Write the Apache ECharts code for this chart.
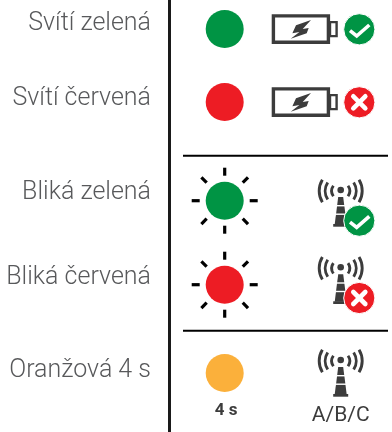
<!DOCTYPE html>
<html>
<head>
<meta charset="utf-8">
<style>
  html, body { margin: 0; padding: 0; background: #fff; }
  #main { width: 392px; height: 432px; }
</style>
<script src="https://cdn.jsdelivr.net/npm/echarts@6/dist/echarts.min.js"></script>
</head>
<body>
<div id="main"></div>
<script>
// one row per signal
const rowLabels = ['Svítí zelená', 'Svítí červená', 'Bliká zelená', 'Bliká červená', 'Oranžová 4 s']
const lampStates = ['green', 'red', 'green', 'red', 'orange']
const lampBlinks = [false, false, true, true, false]
const deviceIcons = ['battery', 'battery', 'tower', 'tower', 'tower']
const statusBadges = ['ok', 'fail', 'ok', 'fail', 'none']
const lampCaptions = ['', '', '', '', '4 s']
const deviceCaptions = ['', '', '', '', 'A/B/C']

// layout, in page pixels
const rowY = [29, 102, 200.7, 284.7, 373]
const labelY = [23.5, 98.5, 192.5, 277.5, 370.5]
const labelRight = 151
const lampX = 224.7
const lampR = 19
const dividerY = [155.7, 330.7]
const colors = { green: '#009444', red: '#ed1c24', orange: '#fbb03b' }
const dark = '#3c3c3c'
const textColor = '#58595b'
const font = 'Roboto, sans-serif'

const myChart = echarts.init(document.getElementById('main'), null, { renderer: 'canvas' })

function badge (cx, cy, kind) {
  const fill = kind === 'ok' ? colors.green : colors.red
  const white = { stroke: '#fff', fill: 'none', lineCap: 'round' }
  const children = [{
    type: 'circle',
    shape: { cx, cy, r: 15.6 },
    style: { fill, stroke: '#fff', lineWidth: 1 }
  }]
  if (kind === 'ok') {
    children.push({
      type: 'polyline',
      shape: { points: [[cx - 9.3, cy + 1.4], [cx - 2.6, cy + 6.7], [cx + 10, cy - 4.3]] },
      style: { ...white, lineWidth: 3.6, lineCap: 'butt' }
    })
  } else {
    [[-6, -6, 6, 6], [-6, 6, 6, -6]].forEach(d => {
      children.push({
        type: 'line',
        shape: { x1: cx + d[0], y1: cy + d[1], x2: cx + d[2], y2: cy + d[3] },
        style: { ...white, lineWidth: 4.6 }
      })
    })
  }
  return children
}

function battery (cy) {
  const left = 273.4
  return [
    { type: 'rect', shape: { x: left, y: cy - 13.1, width: 55, height: 26.4 }, style: { fill: '#fff', stroke: dark, lineWidth: 3.4 } },
    { type: 'rect', shape: { x: 330, y: cy - 6.9, width: 6.6, height: 14 }, style: { fill: '#fff', stroke: dark, lineWidth: 2.4 } },
    {
      type: 'polygon',
      shape: {
        points: [[10.3, -9], [-4.7, -3.7], [-8.3, 4.3], [-1.3, 3], [-10, 9.7], [6, 4.3], [8, -1], [2, 0]]
          .map(p => [300.7 + p[0], cy + p[1]])
      },
      style: { fill: dark }
    }
  ]
}

function tower (dotY) {
  const x = 340.7
  const children = []
  const radii = [9, 15.5, 21.5]
  radii.forEach((r, i) => {
    const a = [0.62, 0.58, 0.55][i]
    ;[0, Math.PI].forEach(mid => {
      children.push({
        type: 'arc',
        shape: { cx: x, cy: dotY + 1, r, startAngle: mid - a, endAngle: mid + a },
        style: { stroke: dark, fill: 'none', lineWidth: 2.9 }
      })
    })
  })
  children.push({ type: 'circle', shape: { cx: x, cy: dotY, r: 3.3 }, style: { fill: dark } })
  children.push({
    type: 'polygon',
    shape: { points: [[x - 2.5, dotY + 7], [x + 2.5, dotY + 7], [x + 6, dotY + 34.5], [x - 6, dotY + 34.5]] },
    style: { fill: dark }
  })
  ;[15, 23.5].forEach(off => {
    children.push({ type: 'rect', shape: { x: x - 8, y: dotY + off, width: 16, height: 1.4 }, style: { fill: '#fff' } })
  })
  children.push({ type: 'rect', shape: { x: x - 7.5, y: dotY + 34, width: 15, height: 2.7 }, style: { fill: dark } })
  return children
}

function rays (cy) {
  const out = []
  for (let k = 0; k < 8; k++) {
    const a = k * Math.PI / 4
    const inner = k % 2 ? 25.5 : 25
    const outer = 33
    out.push({
      type: 'line',
      shape: {
        x1: lampX + Math.cos(a) * inner,
        y1: cy + Math.sin(a) * inner,
        x2: lampX + Math.cos(a) * outer,
        y2: cy + Math.sin(a) * outer
      },
      style: { stroke: '#000', lineWidth: 3.2 }
    })
  }
  return out
}

function renderRow (params, api) {
  const i = params.dataIndex
  const cy = rowY[i]
  let children = []
  if (lampBlinks[i]) children = children.concat(rays(cy))
  if (deviceIcons[i] === 'battery') {
    children = children.concat(battery(cy))
    children = children.concat(badge(359.3, cy + 0.3, statusBadges[i]))
  } else {
    const dotY = cy - 10.7 - (i === 3 ? 6.7 : i === 4 ? 2.3 : 0)
    children = children.concat(tower(dotY))
    if (statusBadges[i] !== 'none') children = children.concat(badge(359.3, dotY + 30.7, statusBadges[i]))
  }
  children.push({
    type: 'text',
    style: { text: rowLabels[i], x: labelRight, y: labelY[i], align: 'right', verticalAlign: 'middle', fontFamily: font, fontSize: 25, fontWeight: 300, fill: textColor }
  })
  if (lampCaptions[i]) {
    children.push({
      type: 'text',
      style: { text: lampCaptions[i], x: lampX + 1.5, y: 410.5, align: 'center', verticalAlign: 'middle', fontFamily: font, fontSize: 17, fontWeight: 700, fill: dark }
    })
  }
  if (deviceCaptions[i]) {
    children.push({
      type: 'text',
      style: { text: deviceCaptions[i], x: 340.7, y: 415.5, align: 'center', verticalAlign: 'middle', fontFamily: font, fontSize: 21, fontWeight: 400, fill: dark }
    })
  }
  return { type: 'group', children }
}

function renderRules () {
  const children = [{ type: 'rect', shape: { x: 168, y: 0, width: 3, height: 432 }, style: { fill: '#1a1a1a' } }]
  dividerY.forEach(y => {
    children.push({ type: 'rect', shape: { x: 183, y: y - 1, width: 205, height: 2 }, style: { fill: '#000' } })
  })
  return { type: 'group', children }
}

const options = {
  animation: false,
  backgroundColor: '#fff',
  grid: { left: 0, right: 0, top: 0, bottom: 0 },
  xAxis: { type: 'value', min: 0, max: 392, show: false },
  yAxis: { type: 'value', min: 0, max: 432, inverse: true, show: false },
  series: [
    {
      type: 'custom',
      coordinateSystem: 'cartesian2d',
      silent: true,
      data: [[0, 0]],
      renderItem: renderRules
    },
    {
      type: 'custom',
      coordinateSystem: 'cartesian2d',
      silent: true,
      data: rowY.map(y => [lampX, y]),
      renderItem: renderRow
    },
    {
      type: 'scatter',
      silent: true,
      symbol: 'circle',
      symbolSize: lampR * 2,
      z: 5,
      data: rowY.map((y, i) => ({ value: [lampX, y], itemStyle: { color: colors[lampStates[i]], opacity: 1 } }))
    }
  ]
}

myChart.setOption(options)
window.addEventListener('resize', () => {
  myChart.resize()
})
</script>
</body>
</html>
